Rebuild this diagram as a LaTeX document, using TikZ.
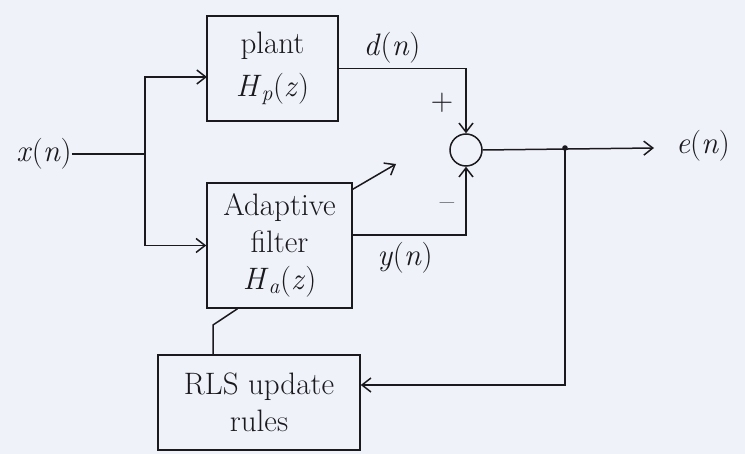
\documentclass[tikz,border=0pt]{standalone}
\usetikzlibrary{arrows.meta,calc}
\definecolor{paper}{RGB}{240,242,250}
\definecolor{ink}{RGB}{25,25,30}
\newcommand{\iv}[1]{\textit{#1}}
\newcommand{\fn}[2]{\iv{#1}(\iv{#2})}
\begin{document}
\begin{tikzpicture}[x=1pt,y=-1pt,
  every node/.style={font=\fontsize{31}{37}\selectfont, text=ink},
  blockbox/.style={draw=ink, line width=1.5pt, rectangle, inner sep=0pt, align=center},
  wire/.style={draw=ink, line width=1.5pt},
  arr/.style={wire, -{Straight Barb[length=9pt,width=14pt,line width=1.5pt]}},
  lbl/.style={inner sep=0pt}]
\fill[paper] (0,0) rectangle (745,454);
\useasboundingbox (0,0) rectangle (745,454);

\node[blockbox, minimum width=131pt, minimum height=105pt] (plant) at (272.5,68.5) {plant\\[6pt]\iv{H}\textsubscript{\iv{p}}(\iv{z})};
\node[blockbox, minimum width=145pt, minimum height=125pt] (adapt) at (279.5,245.5) {Adaptive\\filter\\\iv{H}\textsubscript{\iv{a}}(\iv{z})};
\node[blockbox, minimum width=202pt, minimum height=95pt] (rls) at (259,402.5) {RLS update\\rules};
\node[draw=ink, line width=1.5pt, circle, minimum size=32pt, inner sep=0pt] (sum) at (466,150) {};

\node[lbl] (xn) at (44,154) {\fn{x}{n}};
\node[lbl] (dn) at (392,48) {\fn{d}{n}};
\node[lbl] (yn) at (405,258) {\fn{y}{n}};
\node[lbl] (en) at (703,146) {\fn{e}{n}};
\node[lbl] (plus) at (442,103) {+};
\node[lbl] (minus) at (447,207) {\textendash};

\coordinate (br) at (145,154);
\coordinate (pin) at (207,77);
\coordinate (dot) at (565,148);
\coordinate (eout) at (654,148);
\coordinate (yout) at (352,235);
\coordinate (fb) at (565,385);
\coordinate (diagEnd) at (396,164);
\coordinate (kink) at (213,325);

\draw[wire] (xn.east) -- (br);
\draw[arr] (br) |- (pin);
\draw[arr] (br) |- (adapt.west);
\draw[arr] (plant.east) -| (sum.north);
\draw[arr] (yout) -| (sum.south);
\draw[arr] (sum.east) -- (eout);
\fill[ink] (dot) circle (2.8pt);
\draw[arr] (dot) -- (fb) -- (rls.east |- fb);
\draw[arr] ([yshift=-7pt]adapt.north east) -- (diagEnd);
\draw[wire] ([xshift=-46pt]rls.north) -- (kink) -- ([xshift=-42pt]adapt.south);
\end{tikzpicture}
\end{document}
